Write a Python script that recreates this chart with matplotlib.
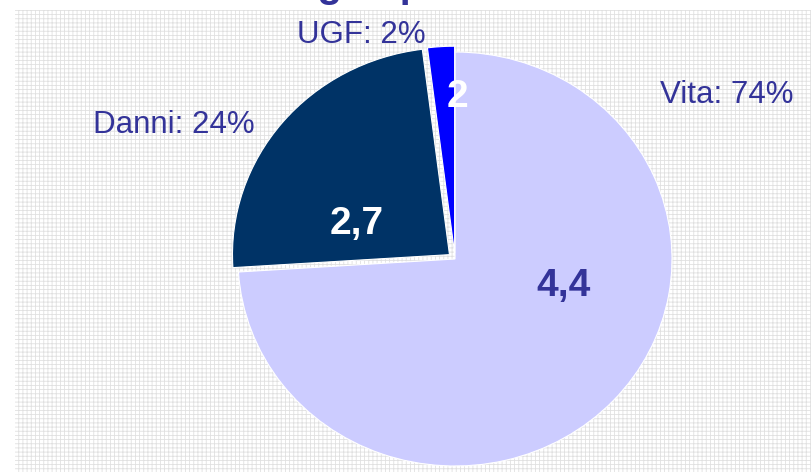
import matplotlib
matplotlib.use("Agg")
import matplotlib.pyplot as plt
from matplotlib.patches import Rectangle

plt.rcParams['font.family'] = ['Liberation Sans', 'DejaVu Sans']
plt.rcParams['hatch.linewidth'] = 0.6

# dati
rami = ['Vita', 'Danni', 'UGF']
quote = [74, 24, 2]            # percentuali
valori = ['4,4', '2,7', '2']   # etichette interne
colori = ['#CCCCFF', '#003366', '#0000FF']
esplodi = [0, 0.033, 0.028]

titolo = 'Raccolta: dettaglio per ramo'
blu = '#333399'

fig = plt.figure(figsize=(8.11, 4.72), dpi=100)

# sfondo a griglia (sotto agli assi)
fig.patches.append(Rectangle((15 / 811, 0), 1, 1 - 10 / 472, transform=fig.transFigure,
                             facecolor='white', edgecolor='#e0e0e0', hatch='++++',
                             linewidth=0, zorder=-1))

ax = fig.add_axes([0, 0, 1, 1])
ax.set_facecolor('none')

wedges, _ = ax.pie(quote, colors=colori, explode=esplodi, startangle=90,
                   counterclock=False, radius=1,
                   wedgeprops=dict(edgecolor='white', linewidth=0.8))
# torta leggermente schiacciata come nell'originale
ax.set_aspect('auto')
ax.set_xlim(-455 / 217, (811 - 455) / 217)
ax.set_ylim(-213 / 207, 259 / 207)
ax.axis('off')

# etichette esterne
pos_est = [(1.253, 0.792), (-1.295, 0.647), (-0.433, 1.082)]
for r, q, (x, y) in zip(rami, quote, pos_est):
    ax.text(x, y, f'{r}: {q}%', ha='center', va='center', fontsize=22.5, color=blu)

# valori interni
pos_int = [(0.498, -0.13), (-0.452, 0.17), (0.009, 0.785)]
col_int = [blu, 'white', 'white']
for v, c, (x, y) in zip(valori, col_int, pos_int):
    ax.text(x, y, v, ha='center', va='center', fontsize=28, fontweight='bold', color=c)

# titolo tagliato in alto
fig.text(31 / 811, 1 + 3.4 / 472, titolo, ha='left', va='baseline',
         fontsize=28.8, fontweight='bold', color=blu)

fig.savefig('out.png', dpi=100)
